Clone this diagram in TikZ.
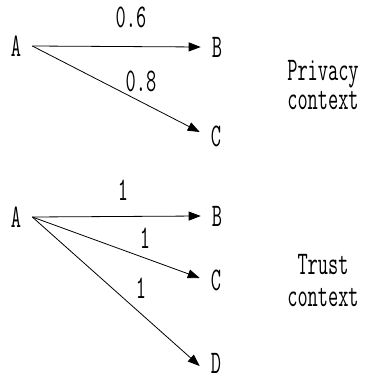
\documentclass[tikz,border=0pt]{standalone}
\usepackage{fontspec}
\setmainfont{Latin Modern Mono}[FakeStretch=0.6]
\usetikzlibrary{arrows.meta}

\tikzset{
  vertex/.style={inner xsep=11pt, inner ysep=0pt, font=\fontsize{33}{33}\selectfont},
  weight/.style={anchor=base, font=\fontsize{33}{33}\selectfont},
  ctx/.style={anchor=base, font=\fontsize{33}{33}\selectfont},
  link/.style={-{Triangle[length=12pt,width=9pt]}, line width=0.8pt}
}

\begin{document}
\begin{tikzpicture}[x=1pt,y=-1pt]
  \useasboundingbox (0,0) rectangle (367,377);
  % privacy context
  \node [vertex] (pa) at (16,46) {A};
  \node [vertex] (pb) at (217,47) {B};
  \node [vertex] (pc) at (216,136) {C};
  \draw [link] (pa.east) -- (pb.west);
  \draw [link] (pa.east) -- ([yshift=4pt]pc.west);
  \node [weight] (w1) at (131,28) {0.6};
  \node [weight] (w2) at (141,92) {0.8};
  \node [ctx] (pctx) at (323,81) {Privacy};
  \node [ctx] (pctx2) at (323,110) {context};

  % trust context
  \node [vertex] (ta) at (16,217) {A};
  \node [vertex] (tb) at (217,216) {B};
  \node [vertex] (tc) at (216,280) {C};
  \node [vertex] (td) at (216,363) {D};
  \draw [link] (ta.east) -- (tb.west);
  \draw [link] (ta.east) -- ([yshift=2pt]tc.west);
  \draw [link] (ta.east) -- ([yshift=-3pt]td.west);
  \node [weight] (w3) at (123,200) {1};
  \node [weight] (w4) at (145,248) {1};
  \node [weight] (w5) at (141,298) {1};
  \node [ctx] (tctx) at (323,274) {Trust};
  \node [ctx] (tctx2) at (323,306) {context};
\end{tikzpicture}
\end{document}
